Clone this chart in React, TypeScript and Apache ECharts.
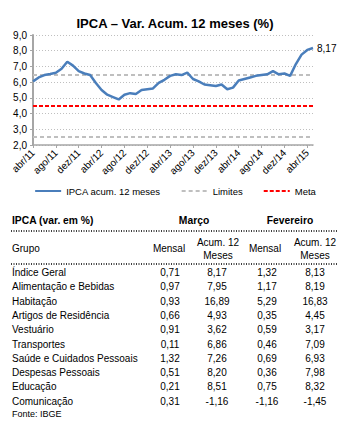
import React, { useEffect, useRef } from "react";
import * as echarts from "echarts";

const monthNames = ["jan", "fev", "mar", "abr", "mai", "jun", "jul", "ago", "set", "out", "nov", "dez"];
// monthly categories: abr/11 ... mai/15 (50 months)
const categories: string[] = [];
for (let k = 0; k < 50; k++) {
  const m = (3 + k) % 12;
  const y = 11 + Math.floor((3 + k) / 12);
  categories.push(`${monthNames[m]}/${y}`);
}

const ipcaAcum12 = [
  6.05, 6.3, 6.45, 6.52, 6.6, 6.85, 7.3, 7.05, 6.7, 6.55,
  6.45, 5.95, 5.5, 5.2, 5.05, 4.9, 5.2, 5.3, 5.25, 5.5,
  5.55, 5.6, 5.95, 6.15, 6.4, 6.5, 6.45, 6.6, 6.2, 6.05,
  5.85, 5.8, 5.75, 5.85, 5.55, 5.65, 6.1, 6.2, 6.3, 6.4,
  6.45, 6.5, 6.7, 6.5, 6.55, 6.4, 7.15, 7.75, 8.05, 8.17,
];
const limites = [6.5, 2.5];
const meta = [4.5];

const grupos = [
  "Índice Geral",
  "Alimentação e Bebidas",
  "Habitação",
  "Artigos de Residência",
  "Vestuário",
  "Transportes",
  "Saúde e Cuidados Pessoais",
  "Despesas Pessoais",
  "Educação",
  "Comunicação",
];
const marcoMensal = [0.71, 0.97, 0.93, 0.66, 0.91, 0.11, 1.32, 0.51, 0.21, 0.31];
const marcoAcum = [8.17, 7.95, 16.89, 4.93, 3.62, 6.86, 7.26, 8.2, 8.51, -1.16];
const fevMensal = [1.32, 1.17, 5.29, 0.35, 0.59, 0.46, 0.69, 0.36, 0.75, -1.16];
const fevAcum = [8.13, 8.19, 16.83, 4.45, 3.17, 7.09, 6.93, 7.98, 8.32, -1.45];

const FONT = "'Liberation Sans', Arial, sans-serif";
const fmt2 = (v: number) => v.toFixed(2).replace(".", ",");

export default function App() {
  const ref = useRef<HTMLDivElement>(null);
  useEffect(() => {
    document.body.style.margin = "0";
    const chart = echarts.init(ref.current!, null, { renderer: "svg" });

    const graphics: any[] = [];
    const txt = (text: string, x: number, y: number, opts: any = {}) => ({
      type: "text",
      x,
      y,
      silent: true,
      style: {
        text,
        fill: "#000",
        font: `${opts.bold ? "bold " : ""}${opts.size || 10}px ${FONT}`,
        align: opts.align || "left",
        verticalAlign: "middle",
      },
    });
    graphics.push(txt("IPCA (var. em %)", 12, 220, { bold: true, size: 10.3 }));
    graphics.push(txt("Março", 194, 220, { bold: true, size: 10.3, align: "center" }));
    graphics.push(txt("Fevereiro", 290, 220, { bold: true, size: 10.3, align: "center" }));
    const dotted = (y: number) => ({
      type: "line",
      silent: true,
      shape: { x1: 11, y1: y, x2: 338, y2: y },
      style: { stroke: "#000", lineWidth: 1.5, lineDash: [1, 1.5] },
    });
    graphics.push(dotted(231));
    graphics.push(txt("Grupo", 12, 248));
    graphics.push(txt("Mensal", 169, 248, { align: "center" }));
    graphics.push(txt("Acum. 12", 218, 242, { align: "center" }));
    graphics.push(txt("Meses", 218, 255, { align: "center" }));
    graphics.push(txt("Mensal", 265, 248, { align: "center" }));
    graphics.push(txt("Acum. 12", 315, 242, { align: "center" }));
    graphics.push(txt("Meses", 315, 255, { align: "center" }));
    graphics.push(dotted(264));
    grupos.forEach((g, i) => {
      const y = 272.5 + i * 14.3;
      graphics.push(txt(g, 12, y));
      graphics.push(txt(fmt2(marcoMensal[i]), 170, y, { align: "center" }));
      graphics.push(txt(fmt2(marcoAcum[i]), 217, y, { align: "center" }));
      graphics.push(txt(fmt2(fevMensal[i]), 267, y, { align: "center" }));
      graphics.push(txt(fmt2(fevAcum[i]), 315, y, { align: "center" }));
    });
    graphics.push(txt("Fonte: IBGE", 12, 414, { size: 9 }));

    chart.setOption({
      animation: false,
      textStyle: { fontFamily: FONT },
      title: {
        text: "IPCA – Var. Acum. 12 meses (%)",
        left: "center",
        top: 12,
        textStyle: { fontSize: 13, fontWeight: "bold", color: "#000", fontFamily: FONT },
      },
      legend: {
        top: 181,
        left: "center",
        itemWidth: 26,
        itemHeight: 8,
        itemGap: 20,
        itemStyle: { opacity: 0 },
        textStyle: { fontSize: 9.5, color: "#000", fontFamily: FONT },
        data: ["IPCA acum. 12 meses", "Limites", "Meta"],
      },
      grid: { left: 33, right: 37, top: 35, bottom: 279, containLabel: false },
      xAxis: {
        type: "category",
        data: categories,
        boundaryGap: false,
        axisLine: { lineStyle: { color: "#a6a6a6", width: 1.5 } },
        axisTick: { show: true, interval: 3, length: 3, lineStyle: { color: "#a6a6a6" } },
        axisLabel: {
          interval: 3,
          rotate: 45,
          fontSize: 10,
          color: "#000",
          margin: 6,
          fontFamily: FONT,
        },
        splitLine: { show: false },
      },
      yAxis: {
        type: "value",
        min: 2,
        max: 9,
        interval: 1,
        axisLine: { show: true, lineStyle: { color: "#a6a6a6", width: 2 } },
        axisTick: { show: true, length: 3, lineStyle: { color: "#a6a6a6" } },
        axisLabel: {
          fontSize: 10,
          color: "#000",
          margin: 6,
          fontFamily: FONT,
          formatter: (v: number) => v.toFixed(1).replace(".", ","),
        },
        splitLine: { lineStyle: { color: "#bfbfbf", type: [1, 2], width: 1 } },
      },
      series: [
        {
          name: "IPCA acum. 12 meses",
          type: "line",
          data: ipcaAcum12,
          symbol: "none",
          z: 5,
          lineStyle: { color: "#4a7ebb", width: 2.5 },
          itemStyle: { color: "#4a7ebb" },
          endLabel: {
            show: true,
            formatter: (p: any) => fmt2(p.value),
            fontSize: 10,
            color: "#000",
            distance: 4,
            fontFamily: FONT,
          },
        },
        {
          name: "Limites",
          type: "line",
          data: [],
          symbol: "none",
          z: 2,
          lineStyle: { color: "#bfbfbf", width: 1.5, type: [4, 3] },
          itemStyle: { color: "#bfbfbf" },
          markLine: {
            silent: true,
            symbol: "none",
            label: { show: false },
            lineStyle: { color: "#bfbfbf", width: 1.8, type: [4, 3] },
            data: limites.map((v) => ({ yAxis: v })),
          },
        },
        {
          name: "Meta",
          type: "line",
          data: [],
          symbol: "none",
          z: 2,
          lineStyle: { color: "#ff0000", width: 1.5, type: [4, 2] },
          itemStyle: { color: "#ff0000" },
          markLine: {
            silent: true,
            symbol: "none",
            label: { show: false },
            lineStyle: { color: "#ff0000", width: 1.8, type: [4, 2] },
            data: meta.map((v) => ({ yAxis: v })),
          },
        },
      ],
      graphic: graphics,
    });
    return () => chart.dispose();
  }, []);
  return (
    <div
      ref={ref}
      style={{ position: "absolute", left: 0, top: 0, width: 350, height: 424 }}
    />
  );
}
